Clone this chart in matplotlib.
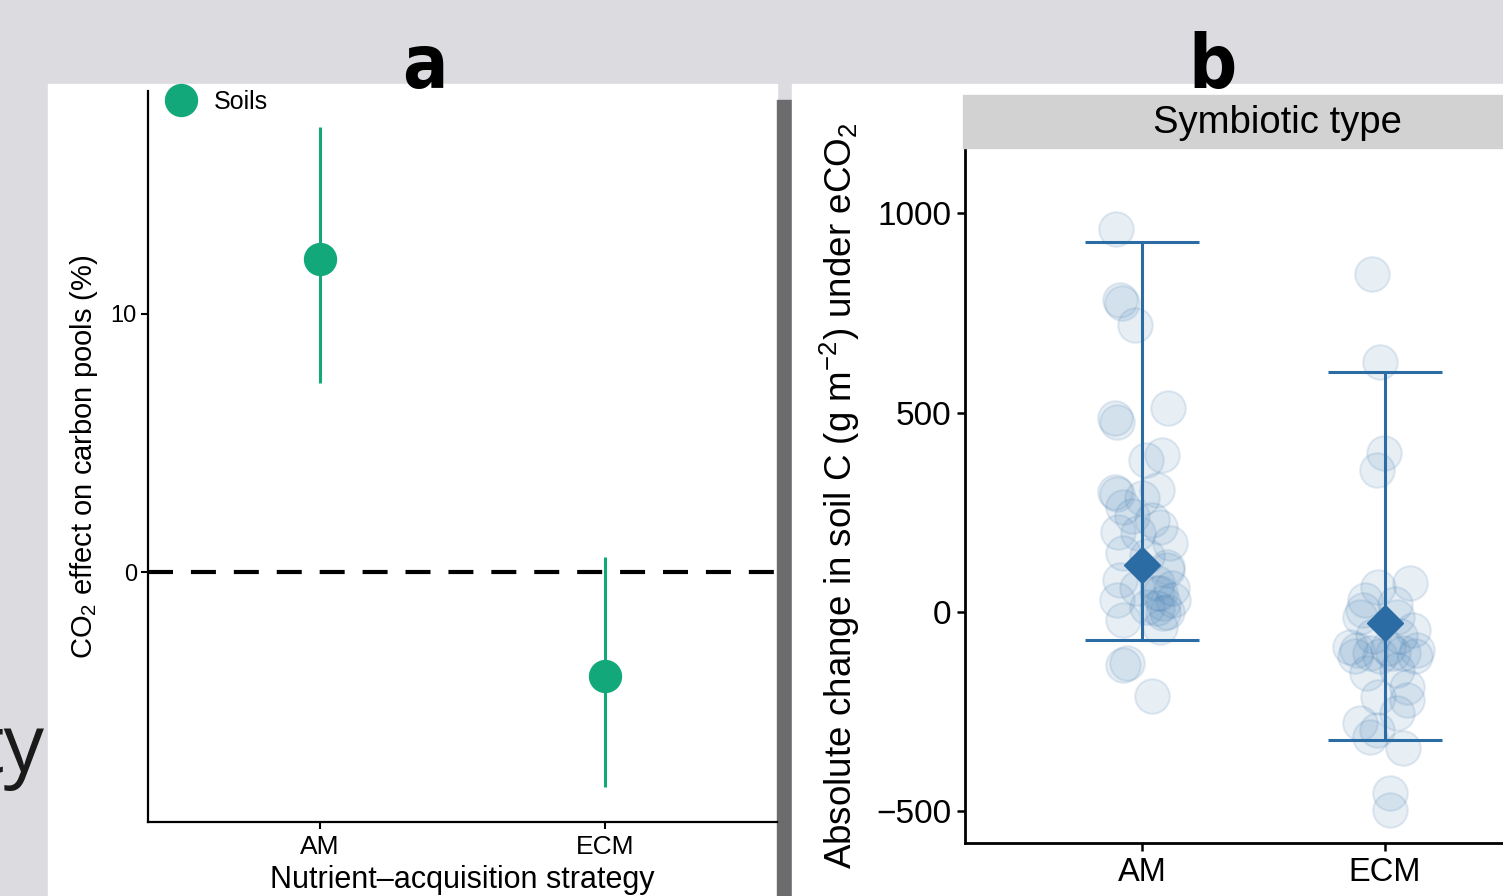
import matplotlib
matplotlib.use("Agg")
import matplotlib.pyplot as plt
from matplotlib.patches import Rectangle
from matplotlib.lines import Line2D

plt.rcParams["font.family"] = ["Liberation Sans", "DejaVu Sans"]
plt.rcParams["mathtext.fontset"] = "custom"
plt.rcParams["mathtext.rm"] = "Liberation Sans"
plt.rcParams["mathtext.it"] = "Liberation Sans"

W, H = 1503, 896

# panel a: CO2 effect on soil carbon pools (%)
a_groups = ["AM", "ECM"]
a_mean = [12.1, -4.0]
a_low = [7.3, -8.3]
a_high = [17.2, 0.6]

# panel b: absolute change in soil C (g m-2), individual studies
am_vals = [960, 775, 782, 720, 476, 486, 511, 393, 381, 300, 296, 306, 286, 263,
           213, 200, 198, 173, 148, 113, 80, 30, 48, 23, 30, -20, -37, 13, 73, 105,
           -133, -128, -210, 48, 0, 10, -3, 140, 240, 230, 60, 60]
am_jit = [-26, -20, -22, -7, -25, -27, 26, 20, 4, -27, -25, 15, 0, -19,
          18, -24, -4, 28, -19, 25, -22, -25, 15, 21, 31, -19, 18, 5, 15, 25,
          -19, -15, 10, 18, 25, 15, 21, 5, -10, 10, 30, -5]
ecm_vals = [847, 627, 398, 356, 73, 63, 5, -12, -12, -45, -95, -103, -103, -103,
            -88, -95, -153, -145, -213, -188, -220, -253, -278, -313, -296, -341,
            -453, -496, -110, -90, -110, -110, 20, -60, -60, 30]
ecm_jit = [-13, -5, -1, -8, 25, -7, -22, -25, 12, 28, -28, -15, 8, 18,
           -35, 32, -18, 12, -7, 22, 22, 12, -25, -15, -8, 18,
           5, 5, -5, 3, 30, -30, 10, -12, 15, -20]
b_groups = ["AM", "ECM"]
b_mean = [118, -28]
b_low = [-70, -321]
b_high = [927, 601]


def fx(px):
    return px / W


def fy(py):
    return 1 - py / H


fig = plt.figure(figsize=(W / 100, H / 100), dpi=100)
fig.patch.set_facecolor("#dbdbe0")

# slide leftovers and panel backgrounds (behind the axes)
fig.text(fx(45), fy(772), "ty", ha="right", va="baseline", fontsize=58,
         family=["Open Sans", "DejaVu Sans"], color="#1a1a1a", zorder=-3)
fig.add_artist(Rectangle((fx(48), 0), fx(777) - fx(48), fy(84), color="white", zorder=-2))
fig.add_artist(Rectangle((fx(777), 0), fx(792) - fx(777), fy(100), color="#6c6c6e", zorder=-2))
fig.add_artist(Rectangle((fx(792), 0), 1 - fx(792), fy(84), color="white", zorder=-2))

green = "#12a87a"
blue = "#2c6ca4"

# ---- panel a
ax1 = fig.add_axes([fx(148), fy(822), fx(777) - fx(148), fy(91) - fy(822)])
ax1.set_facecolor("none")
xa = [1, 2]
for x, m, lo, hi in zip(xa, a_mean, a_low, a_high):
    ax1.plot([x, x], [lo, hi], color=green, lw=2.2, solid_capstyle="butt", zorder=3)
ax1.plot(xa, a_mean, "o", color=green, ms=24, mec="none", zorder=4)
ax1.axhline(0, color="black", lw=3, dashes=(6, 4.3), zorder=2)
ax1.set_xlim(0.4, 2.6)
ax1.set_ylim(-9.65, 18.6)
ax1.set_xticks(xa)
ax1.set_xticklabels(a_groups)
ax1.set_yticks([0, 10])
ax1.tick_params(length=5, width=1.5, pad=3)
ax1.tick_params(axis="y", labelsize=17)
ax1.tick_params(axis="x", labelsize=19, pad=4)
for s in ["top", "right"]:
    ax1.spines[s].set_visible(False)
for s in ["left", "bottom"]:
    ax1.spines[s].set_linewidth(1.6)
ax1.set_xlabel("Nutrient\u2013acquisition strategy", fontsize=22, labelpad=5)
ax1.set_ylabel("CO$_2$ effect on carbon pools (%)", fontsize=21, labelpad=8)
ax1.legend(handles=[Line2D([], [], marker="o", ls="none", color=green, ms=24, mec="none")],
           labels=["Soils"], loc="center left", bbox_to_anchor=(fx(166), fy(102)),
           bbox_transform=fig.transFigure, frameon=False, fontsize=18,
           handletextpad=0.7, borderpad=0, borderaxespad=0, handlelength=1.2)

# ---- panel b
ax2 = fig.add_axes([fx(965), fy(843), fx(1562) - fx(965), fy(148) - fy(843)])
ax2.set_facecolor("none")
xb = [1, 2]
ax2.scatter([xb[0] + j / 243 for j in am_jit], am_vals, s=620, color="#5a8fbf",
            alpha=0.14, edgecolors="#3f75a8", linewidths=1.5, zorder=2)
ax2.scatter([xb[1] + j / 243 for j in ecm_jit], ecm_vals, s=620, color="#5a8fbf",
            alpha=0.14, edgecolors="#3f75a8", linewidths=1.5, zorder=2)
ax2.errorbar(xb, b_mean,
             yerr=[[m - lo for m, lo in zip(b_mean, b_low)], [hi - m for m, hi in zip(b_mean, b_high)]],
             fmt="D", color=blue, ms=18, ecolor=blue, elinewidth=2.2, capsize=41,
             capthick=2.2, zorder=4)
ax2.set_xlim(0.27, 2.73)
ax2.set_ylim(-579, 1163)
ax2.set_xticks(xb)
ax2.set_xticklabels(b_groups)
ax2.set_yticks([-500, 0, 500, 1000])
ax2.set_yticklabels(["\u2212500", "0", "500", "1000"])
ax2.tick_params(length=6, width=1.8, pad=4)
ax2.tick_params(axis="y", labelsize=24)
ax2.tick_params(axis="x", labelsize=23.5)
for s in ["top", "right"]:
    ax2.spines[s].set_visible(False)
for s in ["left", "bottom"]:
    ax2.spines[s].set_linewidth(2)
ax2.set_ylabel("Absolute change in soil C (g m$^{-2}$) under eCO$_2$", fontsize=26.5, labelpad=10)

fig.add_artist(Rectangle((fx(963), fy(148)), 1 - fx(963), fy(95) - fy(148),
                         color="#d2d2d2", zorder=3))
fig.text(fx(1277), fy(123), "Symbiotic type", ha="center", va="center", fontsize=27.5, zorder=4)

# panel letters
for px, lab in [(425, "a"), (1213, "b")]:
    fig.text(fx(px), fy(88), lab, ha="center", va="baseline", fontsize=54,
             fontweight="bold", fontstretch="condensed", family="DejaVu Sans",
             color="black", zorder=5)

fig.savefig("out.png", dpi=100, facecolor=fig.get_facecolor())
